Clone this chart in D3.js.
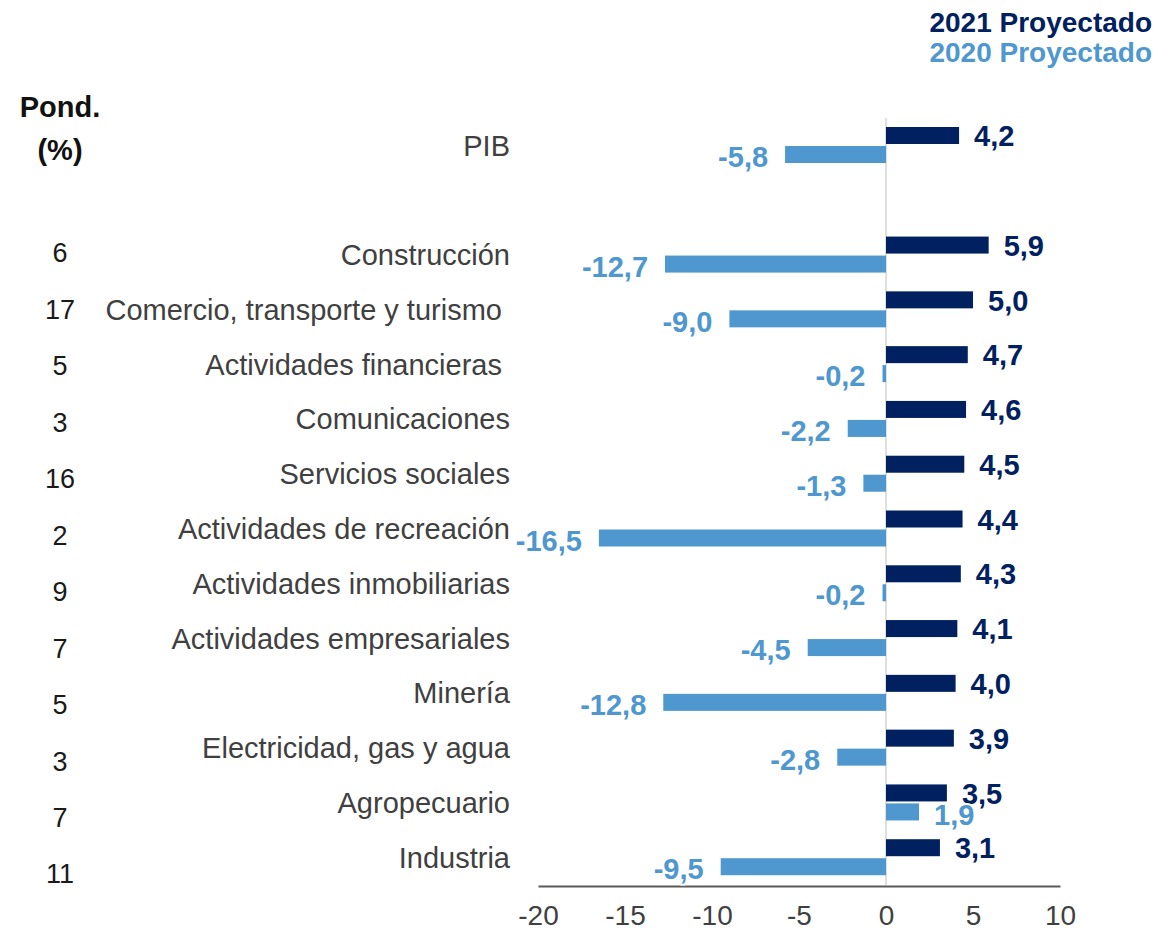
<!DOCTYPE html>
<html>
<head>
<meta charset="utf-8">
<script src="https://cdn.jsdelivr.net/npm/d3@7"></script>
<style>
  html, body { margin: 0; padding: 0; background: #ffffff; }
  svg { display: block; font-family: "Liberation Sans", Arial, sans-serif; }
</style>
</head>
<body>
<svg id="chart" width="1155" height="933"></svg>
<script>
// Sectors (first row is the aggregate; an empty slot separates it from the sectors)
const sectors = [
  "PIB", "",
  "Construcción",
  "Comercio, transporte y turismo ",
  "Actividades financieras ",
  "Comunicaciones",
  "Servicios sociales",
  "Actividades de recreación",
  "Actividades inmobiliarias",
  "Actividades empresariales",
  "Minería",
  "Electricidad, gas y agua",
  "Agropecuario",
  "Industria"
];
// Projected growth, % (null for the empty slot)
const proj2021 = [4.2, null, 5.9, 5.0, 4.7, 4.6, 4.5, 4.4, 4.3, 4.1, 4.0, 3.9, 3.5, 3.1];
const proj2020 = [-5.8, null, -12.7, -9.0, -0.2, -2.2, -1.3, -16.5, -0.2, -4.5, -12.8, -2.8, 1.9, -9.5];
// Sector weights in GDP, % (sectors only)
const weights = [6, 17, 5, 3, 16, 2, 9, 7, 5, 3, 7, 11];
const xTicks = [-20, -15, -10, -5, 0, 5, 10];
const seriesNames = ["2021 Proyectado", "2020 Proyectado"];

const DARK = "#002060";
const LIGHT = "#4e97cf";
// one decimal, comma separator, plain hyphen for negatives
const fmt = v => (v < 0 ? "-" : "") + Math.abs(v).toFixed(1).replace(".", ",");

const svg = d3.select("#chart");

const x = d3.scaleLinear().domain([-20, 10]).range([538, 1060]);
const y = d3.scaleBand().domain(d3.range(sectors.length)).range([118, 885]).padding(0);
const yW = d3.scalePoint().domain(d3.range(weights.length)).range([253, 874]);

const rows = sectors.map((name, i) => ({ i, name, a: proj2021[i], b: proj2020[i] }))
  .filter(d => d.a !== null);

// zero line
svg.append("line")
  .attr("x1", x(0)).attr("x2", x(0))
  .attr("y1", y.range()[0]).attr("y2", y.range()[1])
  .attr("stroke", "#d4d4d4").attr("stroke-width", 1.5);

// bars: 2021 on top, 2020 below
const barH = 17;
svg.append("g").selectAll("rect").data(rows).join("rect")
  .attr("x", d => x(Math.min(0, d.a)))
  .attr("width", d => Math.abs(x(d.a) - x(0)))
  .attr("y", d => y(d.i) + 9)
  .attr("height", barH)
  .attr("fill", DARK);

svg.append("g").selectAll("rect").data(rows).join("rect")
  .attr("x", d => x(Math.min(0, d.b)))
  .attr("width", d => Math.abs(x(d.b) - x(0)))
  .attr("y", d => y(d.i) + 28)
  .attr("height", barH)
  .attr("fill", LIGHT);

// x axis
const axis = svg.append("g")
  .attr("transform", `translate(0,886)`)
  .call(d3.axisBottom(x).tickValues(xTicks).tickSize(0).tickPadding(19)
    .tickFormat(d => String(d)));
axis.select(".domain").attr("stroke", "#595959").attr("stroke-width", 2);
axis.selectAll("text")
  .attr("font-family", "'Liberation Sans', Arial, sans-serif")
  .attr("font-size", 28).attr("fill", "#404040");

// value labels
const valueLabel = (sel) => sel
  .attr("font-size", 29).attr("font-weight", "bold")
  .attr("stroke", "#ffffff").attr("stroke-width", 4)
  .attr("paint-order", "stroke").attr("stroke-linejoin", "round");

svg.append("g").selectAll("text").data(rows).join("text")
  .attr("x", d => x(Math.max(0, d.a)) + 15)
  .attr("y", d => y(d.i) + 18)
  .attr("dy", "0.35em")
  .attr("fill", DARK)
  .text(d => fmt(d.a))
  .call(valueLabel);

svg.append("g").selectAll("text").data(rows).join("text")
  .attr("x", d => d.b < 0 ? x(d.b) - 17 : x(d.b) + 15)
  .attr("y", d => y(d.i) + 39)
  .attr("dy", "0.35em")
  .attr("text-anchor", d => d.b < 0 ? "end" : "start")
  .attr("fill", LIGHT)
  .text(d => fmt(d.b))
  .call(valueLabel);

// category labels
svg.append("g").selectAll("text").data(rows).join("text")
  .attr("x", 510)
  .attr("y", d => y(d.i) + y.bandwidth() / 2)
  .attr("dy", "0.35em")
  .attr("text-anchor", "end")
  .attr("font-size", 29)
  .attr("fill", "#404040")
  .style("white-space", "pre")
  .text(d => d.name);

// weights column
svg.append("text").attr("x", 60).attr("y", 107).attr("dy", "0.35em")
  .attr("text-anchor", "middle").attr("font-size", 29).attr("font-weight", "bold")
  .attr("fill", "#111111").text("Pond.");
svg.append("text").attr("x", 60).attr("y", 150).attr("dy", "0.35em")
  .attr("text-anchor", "middle").attr("font-size", 29).attr("font-weight", "bold")
  .attr("fill", "#111111").text("(%)");

svg.append("g").selectAll("text").data(weights).join("text")
  .attr("x", 60)
  .attr("y", (d, i) => yW(i))
  .attr("dy", "0.35em")
  .attr("text-anchor", "middle")
  .attr("font-size", 27)
  .attr("fill", "#1a1a1a")
  .text(d => d);

// legend
svg.append("g").selectAll("text").data(seriesNames).join("text")
  .attr("x", 1152)
  .attr("y", (d, i) => 22 + i * 30)
  .attr("dy", "0.35em")
  .attr("text-anchor", "end")
  .attr("font-size", 28)
  .attr("font-weight", "bold")
  .attr("fill", (d, i) => i === 0 ? DARK : LIGHT)
  .text(d => d);
</script>
</body>
</html>
